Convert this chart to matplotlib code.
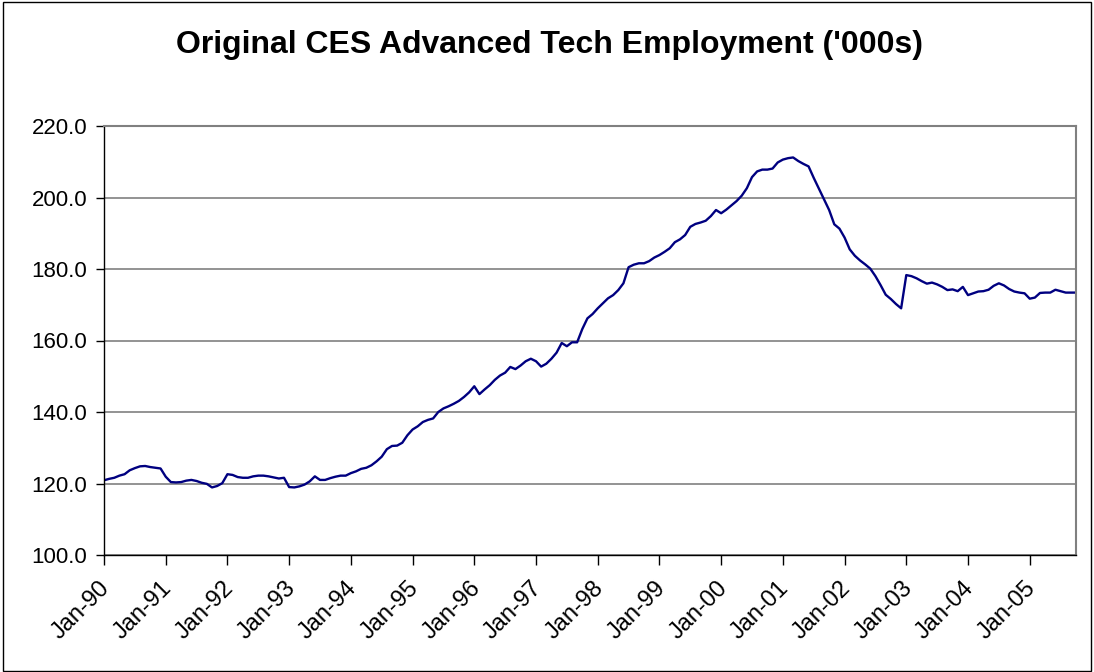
import matplotlib
matplotlib.use("Agg")
import matplotlib.pyplot as plt
from matplotlib.patches import Rectangle
import matplotlib.transforms as mtransforms

# Monthly values Jan-90 onward ('000s)
employment = [
    120.9, 121.3, 121.6, 122.2, 122.6, 123.7, 124.3, 124.8, 124.9, 124.6, 124.4, 124.2,  # 1990
    121.9, 120.4, 120.3, 120.4, 120.8, 121.0, 120.7, 120.2, 119.9, 118.9, 119.3, 120.1,  # 1991
    122.6, 122.4, 121.8, 121.6, 121.6, 122.0, 122.2, 122.2, 122.0, 121.7, 121.4, 121.6,  # 1992
    119.0, 118.9, 119.2, 119.7, 120.6, 122.0, 121.0, 121.0, 121.5, 121.9, 122.2, 122.2,  # 1993
    122.9, 123.4, 124.1, 124.4, 125.1, 126.2, 127.5, 129.6, 130.5, 130.6, 131.4, 133.5,  # 1994
    135.1, 136.0, 137.2, 137.8, 138.2, 140.0, 141.0, 141.6, 142.3, 143.1, 144.2, 145.5,  # 1995
    147.2, 145.0, 146.3, 147.5, 149.0, 150.2, 151.0, 152.6, 152.0, 153.0, 154.2, 154.9,  # 1996
    154.2, 152.7, 153.5, 154.9, 156.6, 159.3, 158.4, 159.5, 159.5, 163.2, 166.2, 167.4,  # 1997
    169.0, 170.4, 171.8, 172.7, 174.1, 176.0, 180.5, 181.2, 181.6, 181.6, 182.2, 183.2,  # 1998
    183.9, 184.8, 185.8, 187.5, 188.3, 189.5, 191.8, 192.6, 193.0, 193.5, 194.8, 196.5,  # 1999
    195.6, 196.6, 197.8, 199.0, 200.5, 202.6, 205.7, 207.3, 207.8, 207.8, 208.1, 209.8,  # 2000
    210.6, 211.0, 211.2, 210.2, 209.4, 208.7, 205.5, 202.5, 199.5, 196.5, 192.5, 191.3,  # 2001
    188.8, 185.5, 183.7, 182.4, 181.3, 180.1, 178.0, 175.5, 172.8, 171.6, 170.2, 169.0,  # 2002
    178.3, 178.0, 177.4, 176.6, 175.9, 176.2, 175.7, 175.0, 174.1, 174.3, 173.8, 175.0,  # 2003
    172.7, 173.2, 173.7, 173.8, 174.2, 175.3, 176.0, 175.4, 174.4, 173.7, 173.4, 173.2,  # 2004
    171.7, 172.0, 173.3, 173.4, 173.4, 174.2, 173.8, 173.4, 173.4, 173.4,              # 2005
]
months = list(range(len(employment)))
tick_labels = ["Jan-90", "Jan-91", "Jan-92", "Jan-93", "Jan-94", "Jan-95", "Jan-96", "Jan-97",
               "Jan-98", "Jan-99", "Jan-00", "Jan-01", "Jan-02", "Jan-03", "Jan-04", "Jan-05"]
tick_positions = [12 * i for i in range(len(tick_labels))]
y_ticks = [100, 120, 140, 160, 180, 200, 220]
title = "Original CES Advanced Tech Employment ('000s)"

plt.rcParams['font.family'] = ['Liberation Sans', 'DejaVu Sans']

W, H = 1094, 672
fig = plt.figure(figsize=(W / 100, H / 100), dpi=100)
fig.patch.set_facecolor('white')

# outer chart border
fig.patches.append(Rectangle((3 / W, 1 / H), (1091 - 3) / W, (670 - 1) / H,
                             transform=fig.transFigure, fill=False,
                             edgecolor='black', linewidth=1.0))

left, right, top, bottom = 104, 1076, 126, 555
ax = fig.add_axes([left / W, 1 - bottom / H, (right - left) / W, (bottom - top) / H])

ax.plot(months, employment, color='#000080', linewidth=1.7, solid_joinstyle='round')

ax.set_xlim(0, len(employment) - 1)
ax.set_ylim(100, 220)
ax.set_yticks(y_ticks)
ax.set_yticklabels([f"{v:.1f}" for v in y_ticks])
ax.set_xticks(tick_positions)
ax.set_xticklabels(tick_labels, rotation=45, ha='right', rotation_mode='anchor')

ax.yaxis.grid(True, color='#808080', linewidth=1.2)
ax.set_axisbelow(True)

for side in ['top', 'right']:
    ax.spines[side].set_color('#808080')
    ax.spines[side].set_linewidth(1.5)
for side in ['left', 'bottom']:
    ax.spines[side].set_color('black')
    ax.spines[side].set_linewidth(1.0)

ax.tick_params(axis='y', direction='out', length=6, width=1, labelsize=16, pad=6, colors='black')
ax.tick_params(axis='x', direction='out', length=7, width=1, labelsize=17, pad=9, colors='black')

shift = mtransforms.ScaledTranslation(-5 / 100, 0, fig.dpi_scale_trans)
for lbl in ax.get_xticklabels():
    lbl.set_transform(lbl.get_transform() + shift)

fig.text(550 / W, 1 - 45 / H, title, ha='center', va='center', fontsize=23, fontweight='bold')

fig.savefig('out.png', dpi=100)
